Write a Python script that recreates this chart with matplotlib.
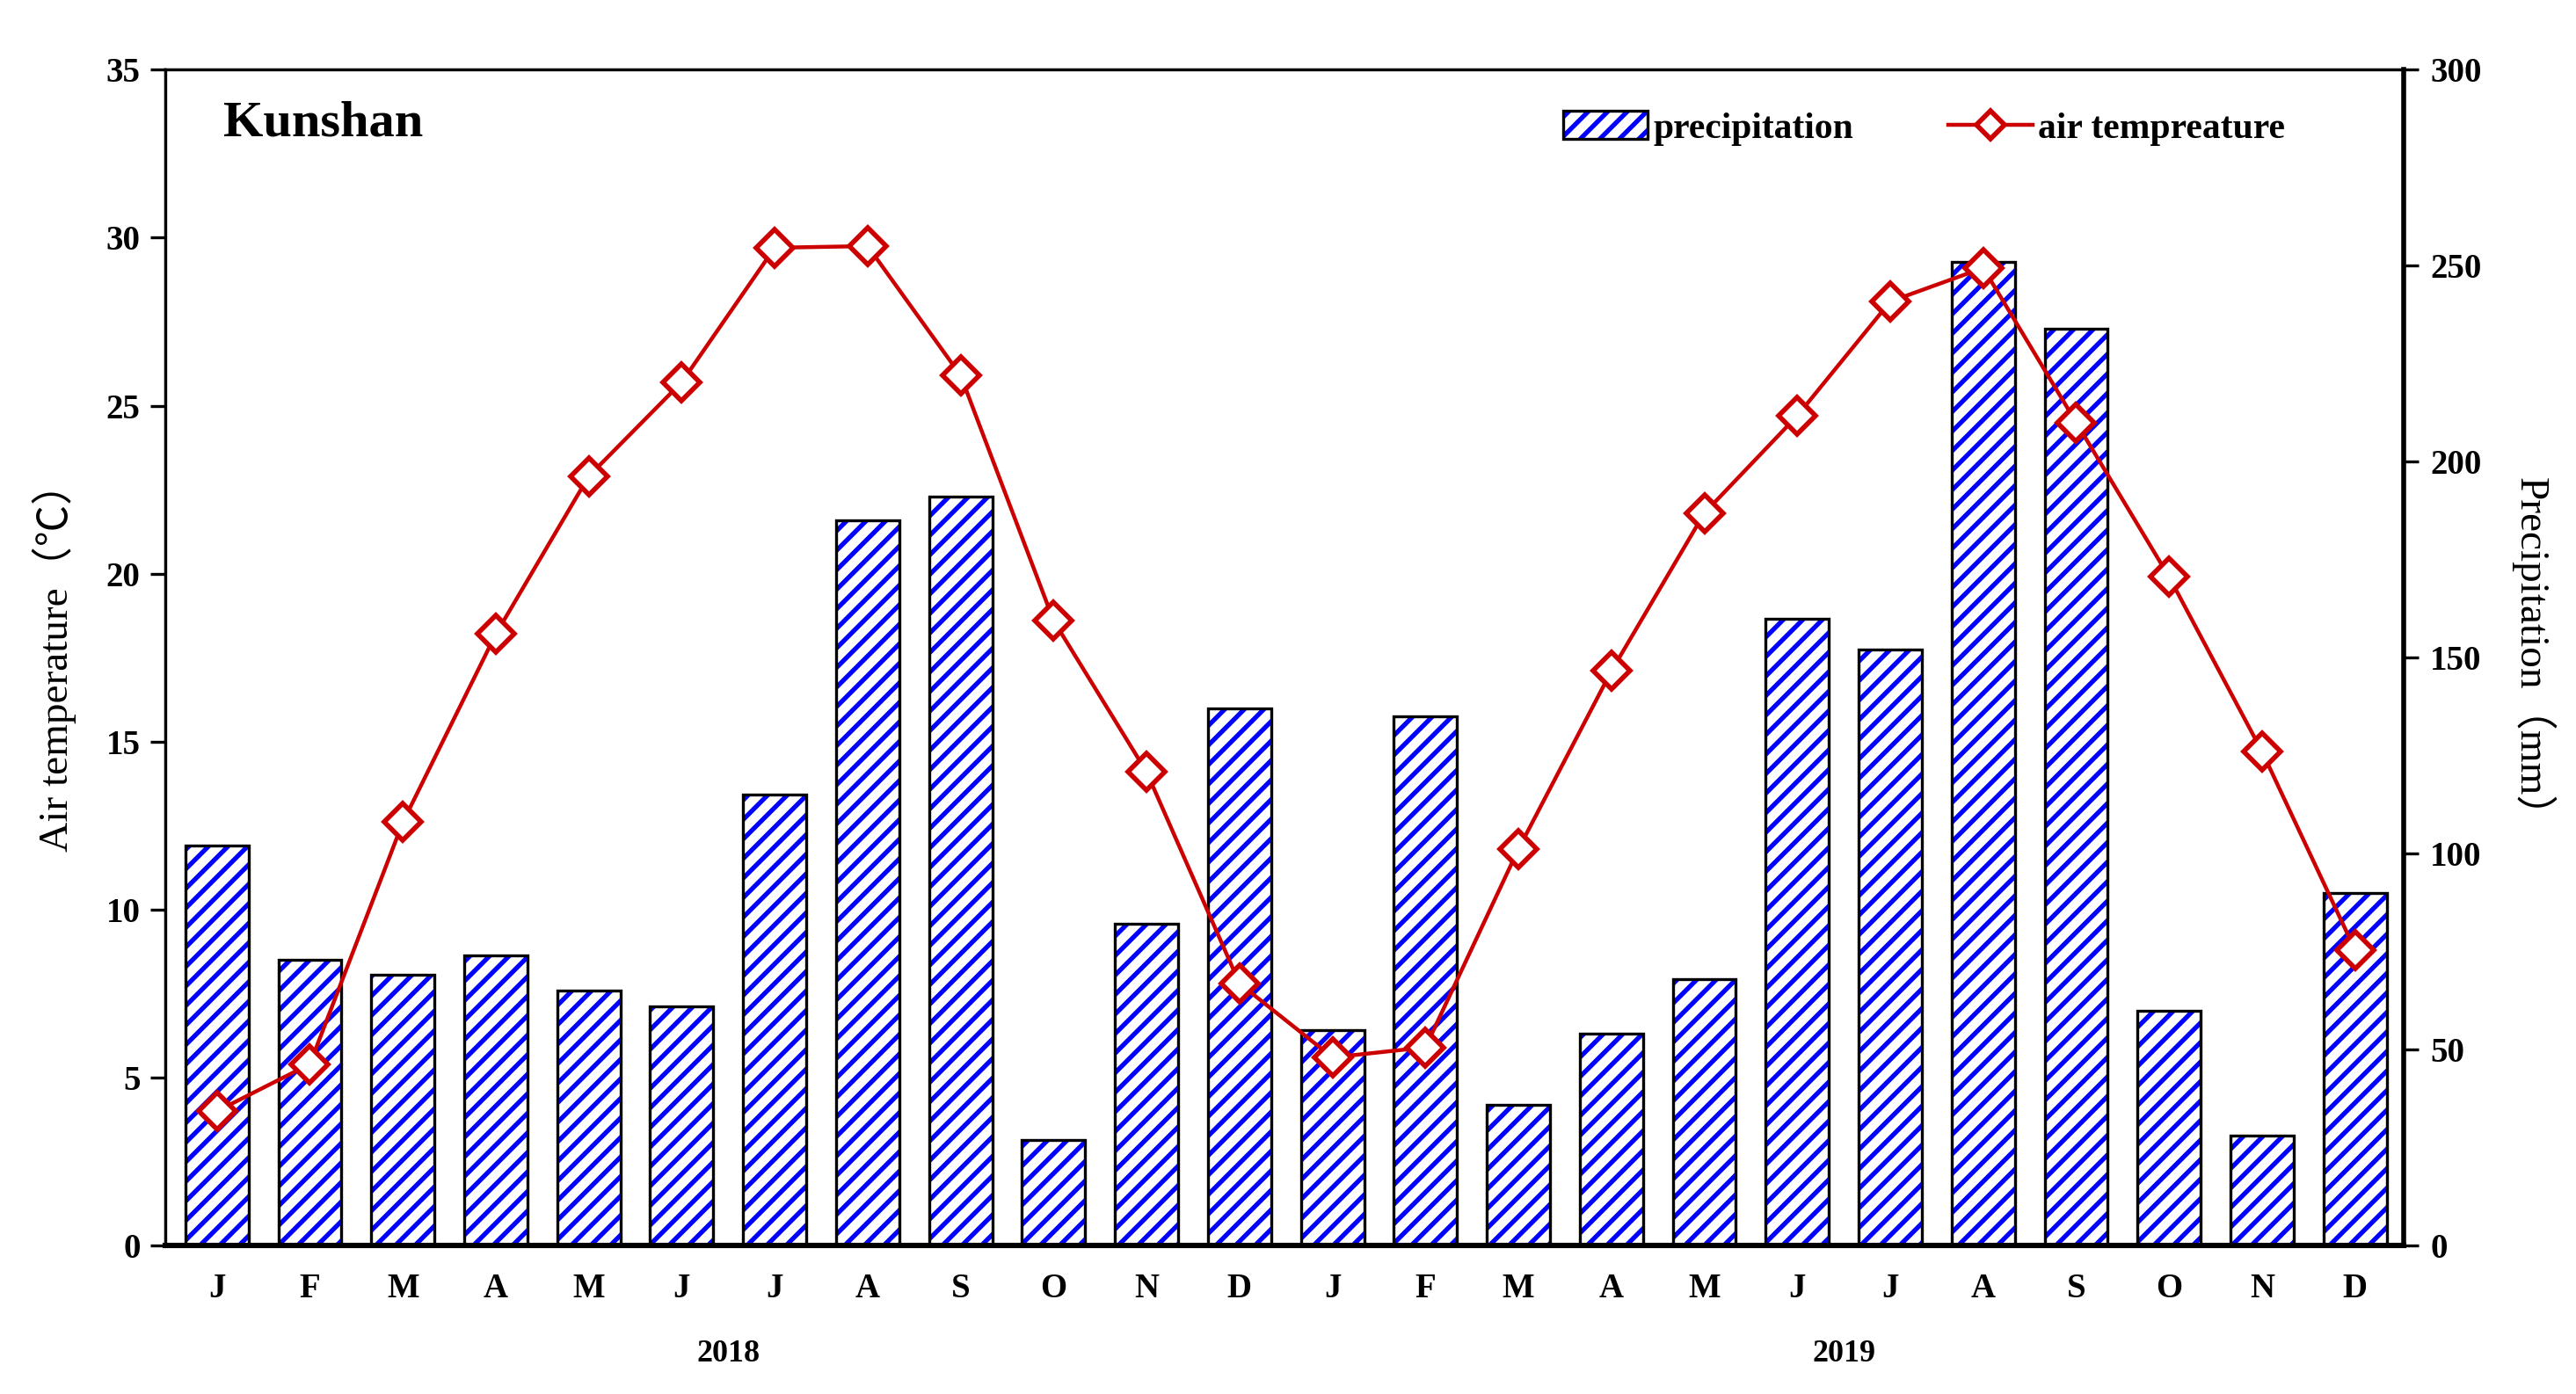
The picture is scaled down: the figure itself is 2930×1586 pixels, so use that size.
import numpy as np
import matplotlib
matplotlib.use("Agg")
import matplotlib.pyplot as plt
from matplotlib.patches import Rectangle
from matplotlib.lines import Line2D
from matplotlib.legend_handler import HandlerTuple
import matplotlib.transforms as mtransforms

months = ['J', 'F', 'M', 'A', 'M', 'J', 'J', 'A', 'S', 'O', 'N', 'D'] * 2
years = ['2018', '2019']

# monthly precipitation (mm), Jan 2018 - Dec 2019
precipitation = [102, 73, 69, 74, 65, 61, 115, 185, 191, 27, 82, 137,
                 55, 135, 36, 54, 68, 160, 152, 251, 234, 60, 28, 90]
# monthly mean air temperature (C)
air_temp = [4.0, 5.4, 12.6, 18.2, 22.9, 25.7, 29.7, 29.75, 25.9, 18.6, 14.1, 7.8,
            5.6, 5.9, 11.8, 17.1, 21.8, 24.7, 28.1, 29.1, 24.5, 19.9, 14.7, 8.8]

serif = ['Liberation Serif', 'Noto Sans CJK SC', 'DejaVu Serif']
plt.rcParams['font.family'] = serif
plt.rcParams['hatch.linewidth'] = 1.9

fig = plt.figure(figsize=(14.65, 7.93), dpi=200)
ax = fig.add_axes([0.064, 0.1065, 0.869, 0.8435])
ax2 = ax.twinx()

x = np.arange(len(months))

# bars: blue hatch layer + black outline layer
ax2.bar(x, precipitation, width=0.68, color='white', edgecolor='#0000ff',
        hatch='///', linewidth=0, zorder=2)
ax2.bar(x, precipitation, width=0.68, fill=False, edgecolor='black',
        linewidth=1.2, zorder=3)

ax.plot(x, air_temp, color='#cc0000', linewidth=1.6, marker='D', markersize=10.5,
        markerfacecolor='white', markeredgecolor='#cc0000', markeredgewidth=2.0,
        zorder=5)

ax.set_zorder(ax2.get_zorder() + 1)
ax.patch.set_visible(False)

ax.set_xlim(-0.56, 23.52)
ax.set_ylim(0, 35)
ax.set_yticks(range(0, 36, 5))
ax2.set_ylim(0, 300)
ax2.set_yticks(range(0, 301, 50))

ax.set_xticks(x)
ax.set_xticklabels(months, fontweight='bold', fontsize=14)
ax.tick_params(axis='x', length=0, pad=11)
ax.tick_params(axis='y', direction='out', length=6, width=1.2, labelsize=14, pad=4)
ax2.tick_params(axis='y', direction='out', length=6, width=1.2, labelsize=14, pad=5)
for lab in ax.get_yticklabels() + ax2.get_yticklabels():
    lab.set_fontweight('bold')

for sp in ax.spines.values():
    sp.set_linewidth(1.2)
ax.spines['bottom'].set_linewidth(2.2)
ax.spines['right'].set_linewidth(2.0)

ax.set_ylabel('Air temperature（℃）', fontsize=17, labelpad=12)
ax2.set_ylabel('Precipitation（mm）', fontsize=17, rotation=270, labelpad=30)

# year labels under the month ticks
trans = mtransforms.blended_transform_factory(ax.transData, ax.transAxes)
for i, yr in enumerate(years):
    ax.text(5.5 + 12 * i, -0.092, yr, transform=trans, ha='center', va='center',
            fontsize=13, fontweight='bold')

ax.text(0.026, 0.954, 'Kunshan', transform=ax.transAxes, ha='left', va='center',
        fontsize=21, fontweight='bold')

bar_h = (Rectangle((0, 0), 1, 1, facecolor='white', edgecolor='#0000ff', hatch='///', linewidth=0),
         Rectangle((0, 0), 1, 1, fill=False, edgecolor='black', linewidth=1.2))
line_h = Line2D([], [], color='#cc0000', linewidth=1.6, marker='D', markersize=8,
                markerfacecolor='white', markeredgecolor='#cc0000', markeredgewidth=2.0)
ax.legend([bar_h, line_h], ['precipitation', 'air tempreature'],
          handler_map={tuple: HandlerTuple(ndivide=1, pad=0)},
          loc='center right', bbox_to_anchor=(0.962, 0.95), ncol=2, frameon=False,
          prop={'weight': 'bold', 'size': 15}, handlelength=2.3, handleheight=0.8,
          handletextpad=0.15, columnspacing=2.6)

fig.savefig('out.png', dpi=200)
